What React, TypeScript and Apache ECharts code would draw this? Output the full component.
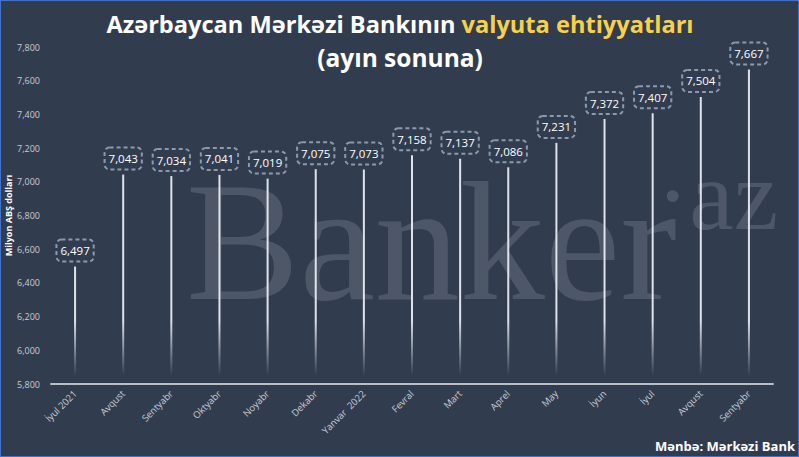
import React, { useEffect, useRef } from "react";
import * as echarts from "echarts";

const categories = ["İyul 2021", "Avqust", "Sentyabr", "Oktyabr", "Noyabr", "Dekabr", "Yanvar  2022", "Fevral", "Mart", "Aprel", "May", "İyun", "İyul", "Avqust", "Sentyabr"];
const reserves = [6497, 7043, 7034, 7041, 7019, 7075, 7073, 7158, 7137, 7086, 7231, 7372, 7407, 7504, 7667];
const yMin = 5800;
const yMax = 7800;
const yStep = 200;

const fmt = (v: number) => v.toLocaleString("en-US");
const FONT = "'Open Sans', 'Noto Sans', sans-serif";

export default function App() {
  const ref = useRef<HTMLDivElement>(null);
  useEffect(() => {
    document.body.style.margin = "0";
    const chart = echarts.init(ref.current!, null, { renderer: "svg" });
    chart.setOption({
      animation: false,
      backgroundColor: "#323c4f",
      grid: { left: 51, right: 26, top: 47, bottom: 73, outerBoundsMode: "none", containLabel: false },
      xAxis: {
        type: "category",
        data: categories,
        axisLine: { lineStyle: { color: "#b9bdc6", width: 2 } },
        axisTick: { show: false },
        axisLabel: { rotate: 45, fontSize: 9.5, color: "#c9cdd5", fontFamily: FONT, margin: 8, interval: 0 },
      },
      yAxis: {
        type: "value",
        min: yMin,
        max: yMax,
        interval: yStep,
        splitLine: { show: false },
        axisLine: { show: false },
        axisTick: { show: false },
        axisLabel: { fontSize: 9, color: "#c9cdd5", fontFamily: FONT, margin: 11, formatter: (v: number) => fmt(v) },
        name: "Milyon ABŞ dolları",
        nameLocation: "middle",
        nameGap: 38,
        nameMoveOverlap: false,
        nameTextStyle: { fontSize: 9, fontWeight: "bold", color: "#ffffff", fontFamily: FONT },
      },
      graphic: [
        {
          type: "text",
          z: 0,
          silent: true,
          x: 186,
          y: 157,
          style: {
            text: "Banker",
            font: "170px 'Liberation Serif', 'DejaVu Serif', serif",
            fill: "rgba(255,255,255,0.14)",
            verticalAlign: "top",
          },
        },
        {
          type: "text",
          z: 0,
          silent: true,
          x: 656,
          y: 145,
          style: {
            text: "·az",
            font: "100px 'Liberation Serif', 'DejaVu Serif', serif",
            fill: "rgba(255,255,255,0.14)",
            verticalAlign: "top",
          },
        },
        {
          type: "text",
          x: 400,
          y: 24,
          style: {
            text: "{w|Azərbaycan Mərkəzi Bankının }{y|valyuta ehtiyyatları}",
            align: "center",
            verticalAlign: "middle",
            rich: {
              w: { fontSize: 23.6, fontWeight: "bold", fontFamily: FONT, fill: "#ffffff", color: "#ffffff" },
              y: { fontSize: 23.6, fontWeight: "bold", fontFamily: FONT, fill: "#f7d14c", color: "#f7d14c" },
            },
          },
        },
        {
          type: "text",
          x: 400,
          y: 57,
          style: {
            text: "(ayın sonuna)",
            align: "center",
            verticalAlign: "middle",
            font: `bold 24.5px ${FONT}`,
            fill: "#ffffff",
          },
        },
        {
          type: "text",
          x: 795,
          y: 446,
          style: {
            text: "Mənbə: Mərkəzi Bank",
            align: "right",
            verticalAlign: "middle",
            font: `bold 13px ${FONT}`,
            fill: "#ffffff",
          },
        },
      ],
      series: [
        {
          type: "bar",
          data: reserves,
          barWidth: 2,
          z: 3,
          itemStyle: {
            color: new echarts.graphic.LinearGradient(0, 320, 0, 376, [
              { offset: 0, color: "rgba(232,235,240,0.95)" },
              { offset: 1, color: "rgba(232,235,240,0)" },
            ], true),
          },
          label: {
            show: true,
            position: "top",
            distance: 5,
            formatter: (p: any) => fmt(p.value),
            color: "#ffffff",
            fontSize: 11.5,
            fontFamily: FONT,
            lineHeight: 14,
            borderColor: "#8c9ab0",
            borderWidth: 2,
            borderType: [4, 3],
            borderRadius: 5,
            padding: [4, 4],
          },
        },
      ],
    });
    return () => chart.dispose();
  }, []);
  return (
    <div style={{ position: "relative", width: 799, height: 457 }}>
      <div ref={ref} style={{ width: 799, height: 457 }} />
      <div style={{ position: "absolute", left: 0, top: 0, width: 799, height: 457, boxSizing: "border-box", border: "1.5px solid #4472c4", pointerEvents: "none" }} />
    </div>
  );
}
